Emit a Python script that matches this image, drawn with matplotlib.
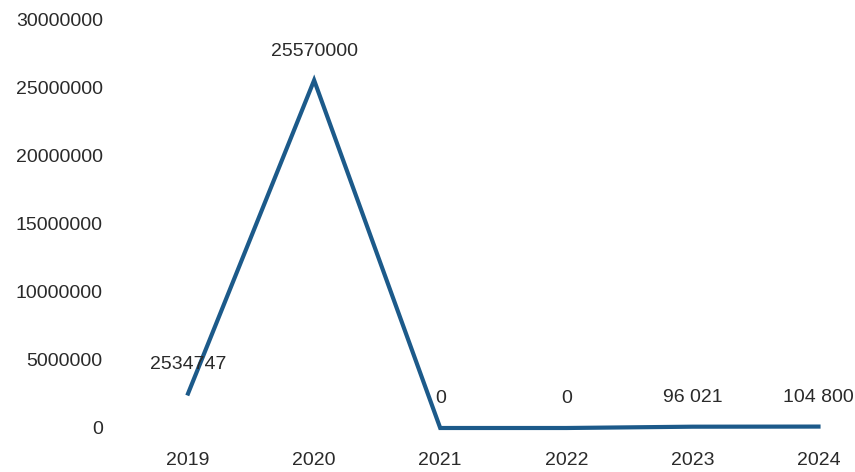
import matplotlib
matplotlib.use("Agg")
import matplotlib.pyplot as plt

years = ["2019", "2020", "2021", "2022", "2023", "2024"]
values = [2534747, 25570000, 0, 0, 96021, 104800]
value_labels = ["2534747", "25570000", "0", "0", "96 021", "104 800"]
y_ticks = [0, 5000000, 10000000, 15000000, 20000000, 25000000, 30000000]
y_tick_labels = ["0", "5000000", "10000000", "15000000", "20000000", "25000000", "30000000"]

plt.rcParams['font.family'] = ['Liberation Sans', 'DejaVu Sans']
W, H = 855, 472
fig = plt.figure(figsize=(W / 100, H / 100), dpi=100)
left, right, top, bottom = 125, 850, 20, 428
ax = fig.add_axes([left / W, (H - bottom) / H, (right - left) / W, (bottom - top) / H])

x = list(range(len(years)))
ax.plot(x, values, color="#1c5a8a", linewidth=3.0, solid_joinstyle="miter", clip_on=False)

for xi, v, lab in zip(x, values, value_labels):
    ax.annotate(lab, (xi, v), xytext=(0, 21), textcoords="offset points",
                ha="center", va="center", fontsize=14, color="#2a2a2a")

ax.set_xlim(-0.5, 5.25)
ax.set_ylim(0, 30000000)
ax.set_yticks(y_ticks)
ax.set_yticklabels(y_tick_labels)
ax.set_xticks(x)
ax.set_xticklabels(years)
ax.tick_params(axis="y", length=0, pad=16, labelsize=14, labelcolor="#2a2a2a")
ax.tick_params(axis="x", length=0, pad=17, labelsize=14, labelcolor="#2a2a2a")
for s in ax.spines.values():
    s.set_visible(False)
ax.patch.set_alpha(0)

fig.savefig("out.png", dpi=100)
